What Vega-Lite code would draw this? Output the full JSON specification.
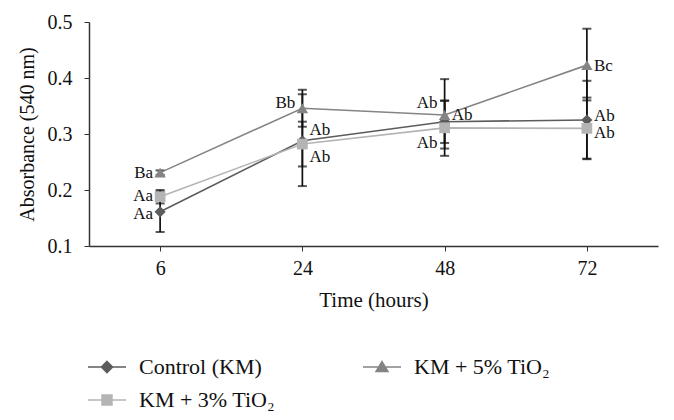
{
  "$schema": "https://vega.github.io/schema/vega-lite/v6.json",
  "autosize": {"type": "none"},
  "padding": {"left": 89, "top": 22, "right": 16, "bottom": 174},
  "width": 569,
  "height": 224,
  "background": "white",
  "config": {
    "font": "Liberation Serif",
    "view": {"stroke": null},
    "axis": {"labelFont": "Liberation Serif", "titleFont": "Liberation Serif", "labelColor": "#111", "titleColor": "#111", "domainColor": "#333", "tickColor": "#333", "grid": false, "titleFontWeight": "normal"},
    "legend": {"labelFont": "Liberation Serif"}
  },
  "datasets": {
    "series": [
      {"series": "Control (KM)", "time": "6", "mean": 0.161, "lo": 0.125, "hi": 0.197},
      {"series": "Control (KM)", "time": "24", "mean": 0.288, "lo": 0.207, "hi": 0.371},
      {"series": "Control (KM)", "time": "48", "mean": 0.322, "lo": 0.284, "hi": 0.36},
      {"series": "Control (KM)", "time": "72", "mean": 0.325, "lo": 0.256, "hi": 0.395},
      {"series": "KM + 3% TiO₂", "time": "6", "mean": 0.188, "lo": 0.176, "hi": 0.2},
      {"series": "KM + 3% TiO₂", "time": "24", "mean": 0.282, "lo": 0.242, "hi": 0.322},
      {"series": "KM + 3% TiO₂", "time": "48", "mean": 0.311, "lo": 0.261, "hi": 0.359},
      {"series": "KM + 3% TiO₂", "time": "72", "mean": 0.31, "lo": 0.255, "hi": 0.365},
      {"series": "KM + 5% TiO₂", "time": "6", "mean": 0.231, "lo": 0.227, "hi": 0.235},
      {"series": "KM + 5% TiO₂", "time": "24", "mean": 0.346, "lo": 0.313, "hi": 0.379},
      {"series": "KM + 5% TiO₂", "time": "48", "mean": 0.334, "lo": 0.274, "hi": 0.398},
      {"series": "KM + 5% TiO₂", "time": "72", "mean": 0.423, "lo": 0.36, "hi": 0.488}
    ],
    "labels": [
      {"time": "6", "label": "Ba", "value": 0.231, "side": "left"},
      {"time": "6", "label": "Aa", "value": 0.19, "side": "left"},
      {"time": "6", "label": "Aa", "value": 0.157, "side": "left"},
      {"time": "24", "label": "Bb", "value": 0.355, "side": "left"},
      {"time": "24", "label": "Ab", "value": 0.308, "side": "right"},
      {"time": "24", "label": "Ab", "value": 0.259, "side": "right"},
      {"time": "48", "label": "Ab", "value": 0.355, "side": "left"},
      {"time": "48", "label": "Ab", "value": 0.334, "side": "right"},
      {"time": "48", "label": "Ab", "value": 0.284, "side": "left"},
      {"time": "72", "label": "Bc", "value": 0.421, "side": "right"},
      {"time": "72", "label": "Ab", "value": 0.333, "side": "right"},
      {"time": "72", "label": "Ab", "value": 0.301, "side": "right"}
    ]
  },
  "encoding": {
    "x": {
      "field": "time", "type": "ordinal", "sort": ["6", "24", "48", "72"],
      "scale": {"type": "point", "padding": 0.5},
      "axis": {"title": "Time (hours)", "labelAngle": 0, "labelFontSize": 20, "titleFontSize": 21, "labelPadding": 7, "titlePadding": 11, "tickSize": 5, "domainWidth": 1.5}
    }
  },
  "layer": [
    {
      "data": {"name": "series"},
      "mark": {"type": "rule", "color": "#111", "strokeWidth": 1.7},
      "encoding": {
        "y": {"field": "lo", "type": "quantitative"},
        "y2": {"field": "hi"}
      }
    },
    {
      "data": {"name": "series"},
      "mark": {"type": "tick", "color": "#111", "size": 9, "thickness": 2, "orient": "horizontal"},
      "encoding": {"y": {"field": "lo", "type": "quantitative"}}
    },
    {
      "data": {"name": "series"},
      "mark": {"type": "tick", "color": "#111", "size": 9, "thickness": 2, "orient": "horizontal"},
      "encoding": {"y": {"field": "hi", "type": "quantitative"}}
    },
    {
      "data": {"name": "series"},
      "mark": {"type": "line", "strokeWidth": 1.6},
      "encoding": {
        "y": {
          "field": "mean", "type": "quantitative",
          "scale": {"domain": [0.1, 0.5], "nice": false, "zero": false},
          "axis": {"title": "Absorbance (540 nm)", "values": [0.1, 0.2, 0.3, 0.4, 0.5], "format": ".1f", "labelFontSize": 20, "titleFontSize": 20, "tickSize": 5, "labelPadding": 12, "titlePadding": 10, "domainWidth": 1.5}
        },
        "color": {
          "field": "series", "type": "nominal",
          "scale": {"domain": ["Control (KM)", "KM + 5% TiO₂", "KM + 3% TiO₂"], "range": ["#5c5c5c", "#848484", "#b4b4b4"]},
          "legend": {
            "title": null, "orient": "none", "legendX": -2, "legendY": 325, "direction": "horizontal", "columns": 2,
            "columnPadding": 83, "rowPadding": 2, "padding": 0, "labelFontSize": 22, "labelColor": "#111", "labelOffset": 12,
            "symbolSize": 1444, "symbolStrokeWidth": 1.6, "symbolType": "M-1,0L1,0",
            "encode": {
              "symbols": {
                "update": {
                  "shape": {"signal": "datum.value === 'Control (KM)' ? 'M-1,0L1,0M0,-0.29L0.29,0L0,0.29L-0.29,0Z' : datum.value === 'KM + 5% TiO₂' ? 'M-1,0L1,0M0,-0.28L0.31,0.24L-0.31,0.24Z' : 'M-1,0L1,0M-0.26,-0.26L0.26,-0.26L0.26,0.26L-0.26,0.26Z'"},
                  "fill": {"scale": "color", "field": "value"},
                  "stroke": {"scale": "color", "field": "value"},
                  "strokeWidth": {"value": 1.6},
                  "opacity": {"value": 1}
                }
              }
            }
          }
        }
      }
    },
    {
      "data": {"name": "series"},
      "transform": [{"filter": "datum.series === 'Control (KM)'"}],
      "mark": {"type": "point", "filled": true, "opacity": 1, "size": 125, "shape": "diamond"},
      "encoding": {
        "y": {"field": "mean", "type": "quantitative"},
        "color": {"field": "series", "type": "nominal", "legend": null}
      }
    },
    {
      "data": {"name": "series"},
      "transform": [{"filter": "datum.series === 'KM + 5% TiO₂'"}],
      "mark": {"type": "point", "filled": true, "opacity": 1, "size": 130, "shape": "triangle-up"},
      "encoding": {
        "y": {"field": "mean", "type": "quantitative"},
        "color": {"field": "series", "type": "nominal", "legend": null}
      }
    },
    {
      "data": {"name": "series"},
      "transform": [{"filter": "datum.series === 'KM + 3% TiO₂'"}],
      "mark": {"type": "point", "filled": true, "opacity": 1, "size": 115, "shape": "square"},
      "encoding": {
        "y": {"field": "mean", "type": "quantitative"},
        "color": {"field": "series", "type": "nominal", "legend": null}
      }
    },
    {
      "data": {"name": "labels"},
      "transform": [{"filter": "datum.side === 'left'"}],
      "mark": {"type": "text", "align": "right", "baseline": "middle", "dx": -7, "fontSize": 17, "color": "#111"},
      "encoding": {
        "y": {"field": "value", "type": "quantitative"},
        "text": {"field": "label"}
      }
    },
    {
      "data": {"name": "labels"},
      "transform": [{"filter": "datum.side === 'right'"}],
      "mark": {"type": "text", "align": "left", "baseline": "middle", "dx": 7, "fontSize": 17, "color": "#111"},
      "encoding": {
        "y": {"field": "value", "type": "quantitative"},
        "text": {"field": "label"}
      }
    }
  ]
}
